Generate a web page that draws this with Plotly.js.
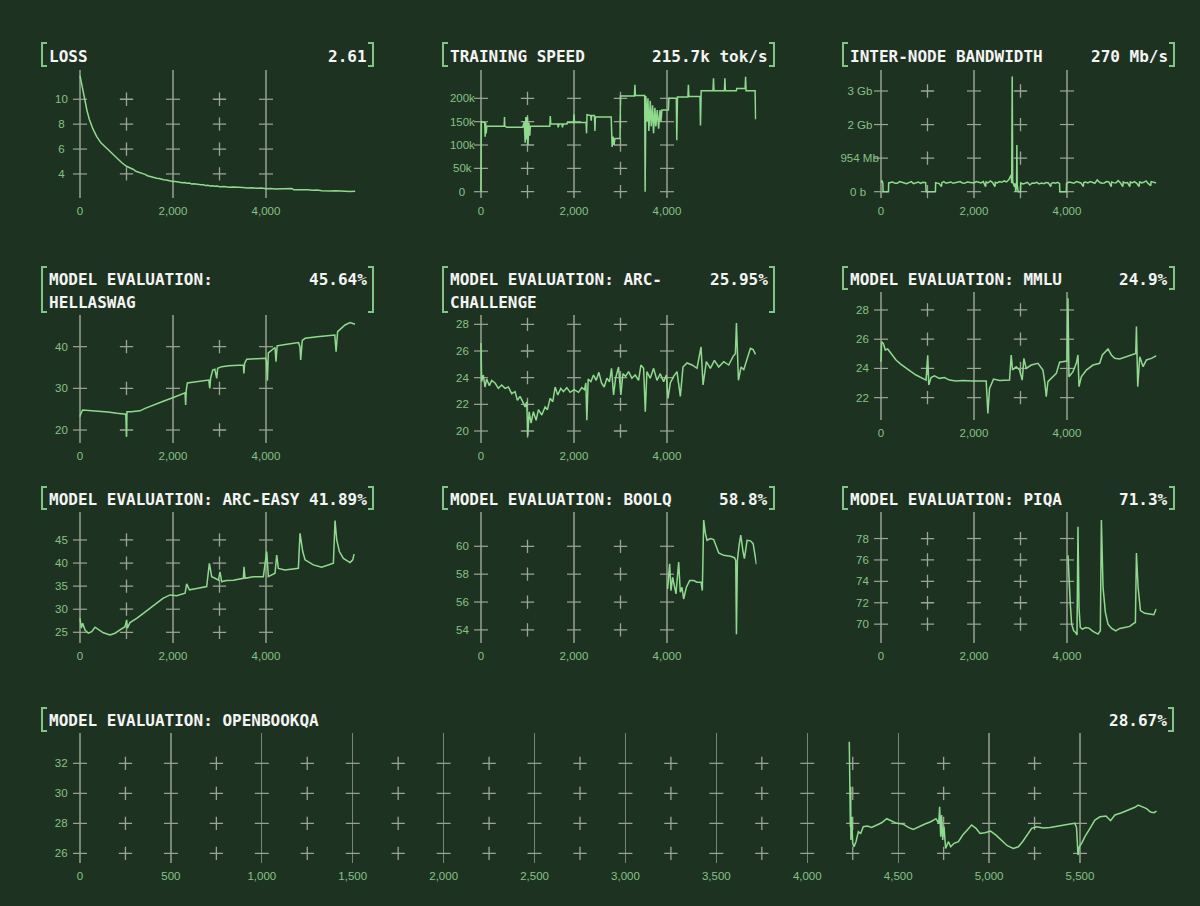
<!DOCTYPE html>
<html>
<head>
<meta charset="utf-8">
<script src="https://cdn.plot.ly/plotly-3.0.1.min.js"></script>
<style>
html,body{margin:0;padding:0;background:#1e3221;}
#chart{width:1200px;height:906px;}
</style>
</head>
<body>
<div id="chart"></div>
<script>
// ===================== DATA (step, value) =====================
const lossData = [[0,11.9],[30,11.3],[60,10.7],[100,10.0],[150,9.1],[200,8.4],[280,7.6],[360,7.0],[450,6.5],[580,6.05],[700,5.6],[800,5.25],[900,4.9],[1000,4.62],[1050,4.55],[1100,4.42],[1150,4.36],[1200,4.22],[1250,4.17],[1300,4.08],[1350,4.02],[1400,3.97],[1450,3.86],[1500,3.8],[1550,3.76],[1600,3.72],[1650,3.66],[1700,3.64],[1750,3.57],[1800,3.54],[1850,3.52],[1900,3.46],[1950,3.45],[2000,3.39],[2050,3.4],[2100,3.35],[2150,3.34],[2200,3.3],[2250,3.31],[2300,3.25],[2350,3.27],[2400,3.2],[2450,3.22],[2500,3.17],[2550,3.15],[2600,3.13],[2650,3.14],[2700,3.08],[2750,3.1],[2800,3.04],[2850,3.06],[2900,3.01],[2950,3.03],[3000,2.98],[3100,2.99],[3200,2.94],[3300,2.96],[3400,2.91],[3500,2.92],[3600,2.88],[3700,2.9],[3800,2.85],[3900,2.87],[4000,2.82],[4100,2.84],[4200,2.79],[4300,2.81],[4400,2.77],[4500,2.79],[4550,2.83],[4600,2.74],[4700,2.75],[4800,2.72],[4900,2.73],[5000,2.69],[5100,2.71],[5200,2.66],[5300,2.68],[5400,2.64],[5500,2.65],[5600,2.62],[5700,2.63],[5800,2.6],[5920,2.61]];

const speedData = [[0,0],[8,150],[80,148],[90,118],[100,148],[110,125],[125,140],[500,140],[505,160],[512,140],[560,138],[900,138],[930,150],[950,105],[965,160],[980,112],[1000,160],[1010,100],[1030,148],[1050,120],[1060,140],[1480,140],[1490,162],[1500,145],[1650,145],[1660,138],[1680,145],[1740,145],[1750,138],[1770,145],[1850,145],[1855,148],[1990,148],[2000,166],[2010,148],[2260,148],[2270,125],[2280,165],[2360,163],[2370,152],[2380,163],[2440,163],[2450,130],[2460,160],[2800,160],[2820,96],[2840,118],[2860,100],[2880,114],[2990,114],[3000,205],[3300,205],[3310,229],[3320,206],[3520,206],[3530,0],[3545,205],[3570,150],[3590,200],[3610,130],[3640,195],[3660,140],[3690,185],[3710,125],[3740,180],[3760,140],[3790,175],[3820,135],[3850,175],[3870,150],[3890,175],[4030,175],[4040,200],[4200,200],[4210,110],[4225,203],[4450,203],[4460,229],[4470,204],[4710,204],[4720,142],[4735,216],[4990,216],[5000,243],[5010,216],[5235,216],[5245,243],[5255,216],[5490,216],[5500,221],[5680,221],[5690,246],[5700,216],[5895,216],[5905,155]];

const bandwidthData = [[0,280],[20,330],[40,250],[45,0],[160,0],[165,260],[250,290],[300,250],[350,250],[400,300],[450,280],[500,260],[550,240],[600,270],[650,300],[700,240],[750,265],[800,290],[850,250],[900,280],[960,270],[970,0],[1170,0],[1175,270],[1250,240],[1300,150],[1310,270],[1350,300],[1400,250],[1450,270],[1500,290],[1550,250],[1600,260],[1650,280],[1700,300],[1750,260],[1800,250],[1850,290],[1900,280],[1950,250],[2000,260],[2050,300],[2100,290],[2150,260],[2200,300],[2250,150],[2260,290],[2300,260],[2350,320],[2400,270],[2450,150],[2460,280],[2500,260],[2550,300],[2600,280],[2650,320],[2700,290],[2750,360],[2800,500],[2810,250],[2822,3430],[2832,300],[2870,150],[2880,250],[2900,0],[2915,250],[2922,1390],[2930,200],[2950,0],[3000,0],[3005,260],[3050,230],[3100,250],[3150,280],[3200,200],[3250,260],[3300,250],[3350,280],[3400,230],[3450,260],[3500,240],[3550,270],[3600,260],[3650,150],[3660,240],[3700,270],[3750,250],[3800,280],[3840,240],[3845,0],[3985,0],[3990,250],[4050,290],[4100,270],[4150,250],[4200,300],[4250,270],[4300,260],[4350,150],[4360,270],[4400,290],[4450,260],[4500,300],[4550,270],[4600,250],[4650,350],[4700,280],[4750,250],[4800,260],[4850,300],[4900,290],[4950,150],[4960,290],[5000,270],[5050,260],[5100,330],[5150,260],[5200,150],[5210,290],[5250,260],[5300,270],[5350,150],[5360,290],[5400,260],[5450,300],[5500,250],[5550,150],[5560,300],[5600,260],[5650,280],[5700,320],[5750,240],[5800,180],[5810,300],[5850,280],[5900,270],[5920,270]];

const hellaswagData = [[0,23.2],[20,24.0],[57,24.8],[200,24.7],[400,24.5],[600,24.3],[800,24.0],[968,23.7],[985,23.8],[1000,18.4],[1010,24.4],[1100,24.4],[1200,24.6],[1290,24.6],[1400,25.2],[1506,25.7],[1650,26.3],[1792,26.9],[2008,27.8],[2150,28.4],[2259,28.9],[2272,26.0],[2285,29.5],[2309,31.3],[2500,31.6],[2700,31.9],[2770,32.0],[2790,30.0],[2810,32.5],[2854,34.4],[2900,34.6],[2940,32.4],[2960,34.8],[3047,35.2],[3200,35.4],[3513,35.6],[3525,33.6],[3540,36.0],[3585,37.0],[3800,37.1],[3995,37.2],[4010,36.5],[4030,31.8],[4050,38.5],[4100,39.0],[4194,39.8],[4215,36.4],[4240,40.2],[4450,40.6],[4700,41.0],[4730,40.0],[4746,36.8],[4780,41.5],[4840,42.0],[5100,42.4],[5480,42.8],[5507,38.8],[5540,43.6],[5600,44.2],[5700,45.2],[5808,45.8],[5880,45.6],[5915,45.4]];

const arcChallengeData = [[0,26.6],[14,23.7],[50,24.2],[86,23.3],[122,23.9],[180,23.4],[230,23.8],[302,23.6],[373,23.2],[445,23.45],[517,23.2],[589,23.3],[660,22.8],[732,22.95],[783,22.3],[840,22.6],[897,22.2],[948,21.8],[984,22.2],[1005,19.6],[1034,21.45],[1077,20.6],[1127,21.45],[1185,20.8],[1235,21.6],[1307,21.2],[1379,21.8],[1429,21.6],[1486,22.45],[1544,22.2],[1594,23.3],[1651,22.7],[1716,23.2],[1773,22.95],[1845,23.25],[1917,22.9],[2003,23.1],[2097,22.9],[2168,23.25],[2226,23.1],[2255,23.6],[2276,20.8],[2305,23.9],[2362,23.7],[2420,24.2],[2477,23.8],[2535,24.4],[2592,23.6],[2649,23.3],[2707,23.95],[2764,23.7],[2807,24.7],[2851,22.7],[2894,23.95],[2958,24.8],[3008,22.7],[3052,24.3],[3109,24.1],[3174,24.45],[3245,23.95],[3317,24.2],[3389,23.8],[3439,24.95],[3497,24.7],[3533,21.45],[3568,24.45],[3640,23.95],[3712,24.7],[3784,23.8],[3856,24.3],[3927,23.7],[3985,24.2],[4021,22.45],[4071,23.6],[4143,24.1],[4215,24.45],[4287,22.6],[4344,24.8],[4430,25.1],[4538,24.95],[4645,24.7],[4732,26.3],[4775,23.45],[4846,25.2],[4933,24.7],[5019,25.3],[5112,24.8],[5220,25.2],[5328,24.95],[5421,25.6],[5471,25.8],[5493,28.1],[5536,23.8],[5593,24.8],[5651,24.6],[5723,25.45],[5794,26.2],[5852,26.1],[5902,25.75]];

const mmluData = [[0,24.46],[14,25.83],[50,25.7],[93,25.26],[144,25.33],[215,25.03],[323,24.58],[431,24.28],[538,24.0],[646,23.78],[754,23.55],[862,23.37],[969,23.2],[1005,24.9],[1027,22.86],[1077,23.37],[1149,23.5],[1256,23.32],[1364,23.37],[1472,23.2],[1615,23.14],[1759,23.18],[1975,23.14],[2262,23.14],[2298,20.92],[2334,22.63],[2369,22.86],[2420,23.27],[2549,23.18],[2764,23.2],[2800,24.92],[2829,23.89],[2908,24.12],[2980,23.89],[3037,23.2],[3073,24.69],[3123,24.0],[3231,24.23],[3375,24.35],[3482,23.89],[3525,22.98],[3554,22.06],[3590,23.09],[3662,23.32],[3770,23.66],[3841,24.42],[3949,24.46],[3999,24.5],[4021,28.8],[4042,23.43],[4129,23.78],[4200,24.35],[4236,24.92],[4258,22.75],[4308,23.43],[4416,23.89],[4559,24.23],[4703,24.35],[4760,24.92],[4882,25.33],[4954,24.92],[5026,24.69],[5134,24.64],[5277,24.8],[5421,24.96],[5478,25.03],[5493,26.86],[5521,22.75],[5565,24.8],[5636,24.12],[5708,24.58],[5816,24.69],[5924,24.87]];

const arcEasyData = [[0,28.0],[29,25.9],[57,26.95],[108,25.5],[179,24.8],[251,25.15],[323,26.1],[394,25.65],[502,24.9],[645,24.4],[753,24.8],[860,25.5],[968,26.2],[1004,27.7],[1018,25.9],[1075,27.1],[1219,28.0],[1362,29.1],[1470,30.0],[1577,30.9],[1685,31.6],[1792,32.4],[1936,33.1],[2079,32.9],[2259,33.45],[2294,35.5],[2352,34.2],[2509,34.5],[2724,34.9],[2782,39.95],[2832,37.05],[2904,36.7],[2976,36.3],[3011,38.1],[3047,36.0],[3155,36.2],[3298,36.3],[3513,36.7],[3528,39.2],[3549,36.7],[3728,37.05],[3943,37.05],[4015,42.5],[4051,37.05],[4194,37.8],[4230,41.75],[4266,38.85],[4409,38.5],[4696,38.85],[4732,46.45],[4790,42.5],[4840,40.7],[5019,39.6],[5198,39.1],[5341,39.6],[5449,39.95],[5485,49.2],[5521,45.0],[5578,42.5],[5664,41.0],[5808,40.1],[5865,40.7],[5894,41.95]];

const boolqData = [[4014,56.94],[4035,57.78],[4057,58.75],[4085,56.82],[4121,57.78],[4157,57.18],[4193,56.58],[4251,58.87],[4286,56.7],[4322,57.06],[4358,56.22],[4416,57.06],[4488,57.54],[4574,57.54],[4645,57.42],[4732,57.42],[4760,56.82],[4789,61.88],[4825,60.92],[4861,60.43],[4933,60.55],[5004,60.48],[5062,59.95],[5112,59.52],[5220,59.35],[5364,59.28],[5450,59.18],[5478,58.99],[5493,53.69],[5514,58.99],[5550,60.07],[5586,60.8],[5636,59.59],[5665,59.11],[5722,60.43],[5794,60.39],[5852,60.19],[5902,58.99],[5924,58.7]];

const piqaData = [[4021,76.43],[4042,74.08],[4071,71.89],[4100,70.0],[4143,69.38],[4186,69.22],[4215,69.0],[4236,79.1],[4258,71.57],[4286,69.69],[4330,69.54],[4401,69.69],[4473,69.63],[4559,69.32],[4667,69.07],[4717,69.38],[4739,79.72],[4775,73.45],[4825,71.1],[4882,70.0],[4954,69.63],[5048,69.38],[5134,69.6],[5241,69.69],[5349,69.79],[5435,70.07],[5471,70.16],[5493,76.65],[5529,73.45],[5579,71.26],[5672,71.01],[5780,70.95],[5866,70.88],[5909,71.32],[5924,71.42]];

const openbookqaData = [[4231,33.44],[4233,29.56],[4235,32.44],[4237,27.78],[4239,30.44],[4240,26.89],[4244,28.44],[4250,26.67],[4257,26.44],[4268,26.78],[4281,27.44],[4294,27.33],[4308,27.78],[4330,27.82],[4354,27.73],[4382,27.89],[4409,28.04],[4437,28.31],[4464,28.18],[4492,28.0],[4525,27.96],[4556,27.73],[4583,27.6],[4611,27.78],[4647,27.96],[4679,28.11],[4708,28.31],[4723,28.0],[4728,29.11],[4734,27.11],[4739,28.56],[4745,26.89],[4752,27.78],[4761,26.33],[4776,26.78],[4789,26.44],[4807,26.67],[4831,26.78],[4855,27.22],[4880,27.56],[4904,27.89],[4928,27.67],[4950,27.33],[4977,27.38],[5008,27.49],[5038,27.22],[5069,26.89],[5100,26.51],[5133,26.33],[5161,26.44],[5184,26.78],[5210,27.22],[5234,27.67],[5261,27.78],[5298,27.69],[5335,27.73],[5371,27.82],[5408,27.89],[5445,27.96],[5472,28.0],[5481,27.73],[5489,25.89],[5496,26.44],[5509,26.67],[5527,27.11],[5555,27.67],[5582,28.22],[5610,28.44],[5643,28.49],[5668,28.18],[5692,28.56],[5729,28.71],[5765,28.89],[5802,29.07],[5820,29.22],[5844,29.11],[5866,28.98],[5888,28.76],[5907,28.71],[5921,28.82]];

// ===================== TICKS & TEXT =====================
const smallXTicks = [0, 2000, 4000];
const wideXTicks = [0, 500, 1000, 1500, 2000, 2500, 3000, 3500, 4000, 4500, 5000, 5500];

const lossYTicks = [4, 6, 8, 10];
const speedYTicks = [0, 50, 100, 150, 200];
const speedYLabels = ['0', '50k', '100k', '150k', '200k'];
const bandwidthYTicks = [0, 1000, 2000, 3000];
const bandwidthYLabels = ['0 b', '954 Mb', '2 Gb', '3 Gb'];
const hellaswagYTicks = [20, 30, 40];
const arcChallengeYTicks = [20, 22, 24, 26, 28];
const mmluYTicks = [22, 24, 26, 28];
const arcEasyYTicks = [25, 30, 35, 40, 45];
const boolqYTicks = [54, 56, 58, 60];
const piqaYTicks = [70, 72, 74, 76, 78];
const openbookqaYTicks = [26, 28, 30, 32];

const panelTitles = [
  ['LOSS'], ['TRAINING SPEED'], ['INTER-NODE BANDWIDTH'],
  ['MODEL EVALUATION:', 'HELLASWAG'], ['MODEL EVALUATION: ARC-', 'CHALLENGE'], ['MODEL EVALUATION: MMLU'],
  ['MODEL EVALUATION: ARC-EASY'], ['MODEL EVALUATION: BOOLQ'], ['MODEL EVALUATION: PIQA'],
  ['MODEL EVALUATION: OPENBOOKQA']
];
const panelReadouts = ['2.61', '215.7k tok/s', '270 Mb/s', '45.64%', '25.95%', '24.9%', '41.89%', '58.8%', '71.3%', '28.67%'];

// ===================== STYLE / GEOMETRY =====================
const W = 1200, H = 906;
const BG = '#1e3221', LINE = '#90da90', TICKC = '#86c286', GRID = '#7a8674', CROSS = '#9ca596', BRACKET = '#7fc488', TITLEC = '#f4f4f4';
const TICK_FONT = 'Liberation Sans';
const TICK_SIZE = 11.5;
const SMALL_SCALE = 93 / 2000;   // px per step
const WIDE_SCALE = 1000 / 5500;
const COL_X0 = [80, 481, 881];
const COL_BL = [42, 443, 843];
const COL_BR = [373, 774, 1174];
const Y_LABEL_CENTER_OFFSET = 20;
const Y_BASE_PAD = 2;
const X_STANDOFF = 4;
const TITLE_DY = 1.5;

const panels = [
  {data: lossData, yt: lossYTicks, col: 0, top: 70, bottom: 198, yr: [2.07, 12.35], ty: [55], br: [43, 66]},
  {data: speedData, yt: speedYTicks, yl: speedYLabels, col: 1, top: 70, bottom: 198, yr: [-13.5, 260.7], ty: [55], br: [43, 66]},
  {data: bandwidthData, yt: bandwidthYTicks, yl: bandwidthYLabels, col: 2, top: 70, bottom: 198, yr: [-188, 3625], ty: [55], br: [43, 66]},
  {data: hellaswagData, yt: hellaswagYTicks, col: 0, top: 315, bottom: 443, yr: [16.88, 47.6], ty: [278, 301], br: [267, 312]},
  {data: arcChallengeData, yt: arcChallengeYTicks, col: 1, top: 315, bottom: 443, yr: [19.1, 28.7], ty: [278, 301], br: [267, 312]},
  {data: mmluData, yt: mmluYTicks, col: 2, top: 292, bottom: 420, yr: [20.47, 29.23], ty: [278], br: [267, 289]},
  {data: arcEasyData, yt: arcEasyYTicks, col: 0, top: 512, bottom: 643, yr: [22.68, 51.06], ty: [498], br: [487, 509]},
  {data: boolqData, yt: boolqYTicks, col: 1, top: 512, bottom: 643, yr: [53.06, 62.46], ty: [498], br: [487, 509]},
  {data: piqaData, yt: piqaYTicks, col: 2, top: 512, bottom: 643, yr: [68.24, 80.48], ty: [498], br: [487, 509]},
  {data: openbookqaData, yt: openbookqaYTicks, wide: true, top: 733, bottom: 863, yr: [25.36, 34.02], ty: [719], br: [708, 731]}
];

const ctx = document.createElement('canvas').getContext('2d');
ctx.font = TICK_SIZE + 'px "' + TICK_FONT + '"';
const NBSP = '\u00a0';
const nbspW = ctx.measureText(NBSP).width || 3.2;
function centerLabels(labels) {
  const ws = labels.map(s => ctx.measureText(s).width);
  const maxW = Math.max(...ws);
  return {
    text: labels.map((s, i) => s + NBSP.repeat(Math.max(0, Math.round((maxW - ws[i]) / 2 / nbspW)))),
    maxW: maxW
  };
}

const traces = [];
const shapes = [];
const annotations = [];
const layout = {
  width: W, height: H,
  paper_bgcolor: BG, plot_bgcolor: BG,
  margin: {l: 0, r: 0, t: 0, b: 0},
  showlegend: false,
  hovermode: false
};

panels.forEach((p, i) => {
  const n = i + 1;
  const sfx = n === 1 ? '' : String(n);
  const xref = 'x' + sfx, yref = 'y' + sfx;
  const scale = p.wide ? WIDE_SCALE : SMALL_SCALE;
  const x0 = p.wide ? 80 : COL_X0[p.col];
  const r0 = p.wide ? -8 : -25, r1 = 5925;
  const domL = x0 + r0 * scale, domR = x0 + r1 * scale;
  const majors = p.wide ? wideXTicks : smallXTicks;
  const mids = majors.slice(1).map((v, k) => (v + majors[k]) / 2);

  // grid marks: dashes on majors, crosses at midpoints
  const dx = [], dy = [], cx = [], cy = [];
  majors.forEach(m => p.yt.forEach(v => { dx.push(m); dy.push(v); }));
  mids.forEach(m => p.yt.forEach(v => { cx.push(m); cy.push(v); }));
  traces.push({type: 'scatter', mode: 'markers', x: dx, y: dy, xaxis: xref, yaxis: yref, cliponaxis: false, hoverinfo: 'skip',
    marker: {symbol: 'line-ew-open', size: 10, color: CROSS, line: {color: CROSS, width: 1.2}}});
  traces.push({type: 'scatter', mode: 'markers', x: cx, y: cy, xaxis: xref, yaxis: yref, cliponaxis: false, hoverinfo: 'skip',
    marker: {symbol: 'cross-thin-open', size: 9.5, color: CROSS, line: {color: CROSS, width: 1.3}}});
  // data line
  traces.push({type: 'scatter', mode: 'lines', x: p.data.map(d => d[0]), y: p.data.map(d => d[1]), xaxis: xref, yaxis: yref,
    hoverinfo: 'skip', line: {color: LINE, width: 1.5}});

  const labels = p.yl ? p.yl : p.yt.map(v => String(v));
  const cl = centerLabels(labels);
  const yStand = Math.max(0, Math.round(domL - (x0 - Y_LABEL_CENTER_OFFSET + cl.maxW / 2) - Y_BASE_PAD));

  layout['xaxis' + sfx] = {
    domain: [domL / W, domR / W], range: [r0, r1], anchor: yref,
    tickmode: 'array', tickvals: majors, tickformat: ',',
    showgrid: true, gridcolor: GRID, gridwidth: 1.3, zeroline: false, showline: false, ticks: '',
    tickfont: {family: TICK_FONT, size: TICK_SIZE, color: TICKC}, ticklabelstandoff: X_STANDOFF, fixedrange: true
  };
  layout['yaxis' + sfx] = {
    domain: [1 - p.bottom / H, 1 - p.top / H], range: p.yr, anchor: xref,
    tickmode: 'array', tickvals: p.yt, ticktext: cl.text,
    showgrid: false, zeroline: false, showline: false, ticks: '',
    tickfont: {family: TICK_FONT, size: TICK_SIZE, color: TICKC}, ticklabelstandoff: yStand, fixedrange: true
  };

  // brackets
  const bl = p.wide ? 42 : COL_BL[p.col];
  const brr = p.wide ? 1173 : COL_BR[p.col];
  const t = p.br[0], b = p.br[1];
  const fx = v => v / W, fy = v => 1 - v / H;
  shapes.push({type: 'path', xref: 'paper', yref: 'paper', line: {color: BRACKET, width: 2},
    path: `M${fx(bl + 5)},${fy(t)} L${fx(bl)},${fy(t)} L${fx(bl)},${fy(b)} L${fx(bl + 5)},${fy(b)}`});
  shapes.push({type: 'path', xref: 'paper', yref: 'paper', line: {color: BRACKET, width: 2},
    path: `M${fx(brr - 5)},${fy(t)} L${fx(brr)},${fy(t)} L${fx(brr)},${fy(b)} L${fx(brr - 5)},${fy(b)}`});

  // titles
  const tf = {family: 'DejaVu Sans Mono', size: 16, color: TITLEC, weight: 'bold'};
  panelTitles[i].forEach((line, k) => {
    annotations.push({xref: 'paper', yref: 'paper', x: fx(bl + 6), y: fy(p.ty[k] + TITLE_DY), xanchor: 'left', yanchor: 'middle',
      text: line, showarrow: false, font: tf, borderpad: 0});
  });
  annotations.push({xref: 'paper', yref: 'paper', x: fx(brr - 5), y: fy(p.ty[0] + TITLE_DY), xanchor: 'right', yanchor: 'middle',
    text: panelReadouts[i], showarrow: false, font: tf, borderpad: 0});
});

layout.shapes = shapes;
layout.annotations = annotations;

Plotly.newPlot('chart', traces, layout, {staticPlot: true, displayModeBar: false});
</script>
</body>
</html>
